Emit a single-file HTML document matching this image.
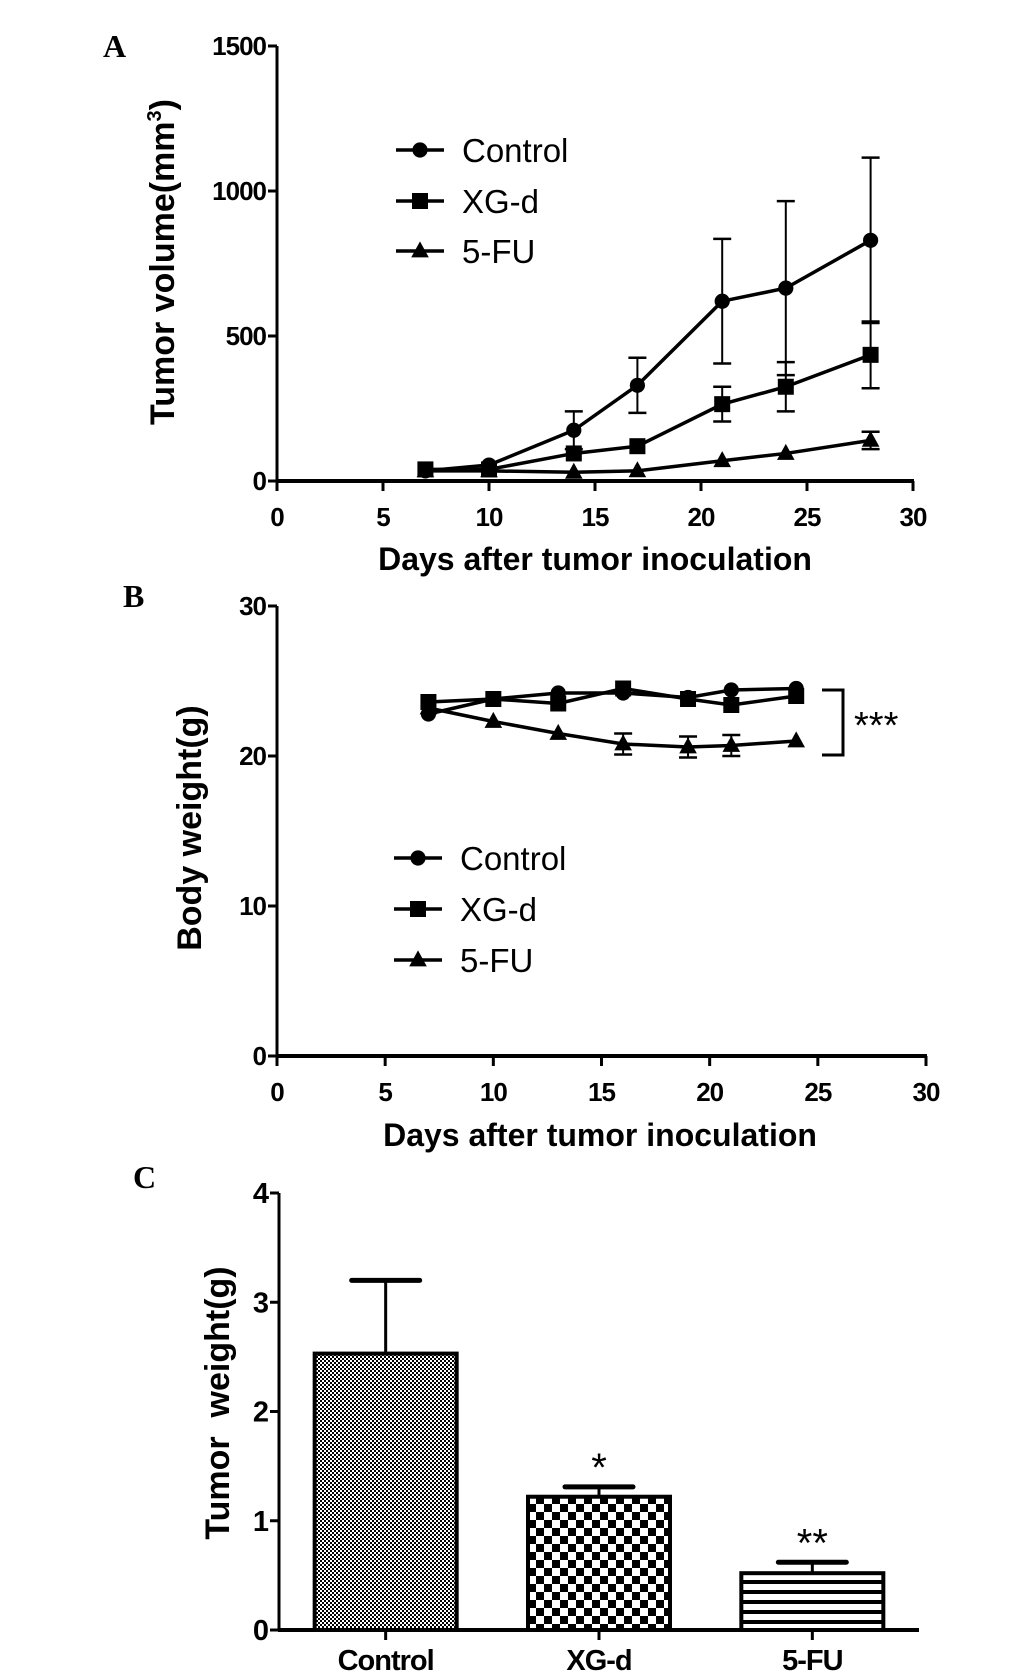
<!DOCTYPE html>
<html><head><meta charset="utf-8"><style>
html,body{margin:0;padding:0;background:#fff;}
svg{display:block;font-family:"Liberation Sans",Arial,sans-serif;}
.tk{font-size:26px;font-weight:bold;letter-spacing:-1px;}
.ttl{font-size:32px;font-weight:bold;}
.lg{font-size:33px;}
.pl{font-family:"Liberation Serif",serif;font-size:32px;font-weight:bold;}
</style></head><body>
<svg id="fig" width="1033" height="1672" viewBox="0 0 1033 1672" xmlns="http://www.w3.org/2000/svg">
<defs>
<pattern id="pDots" width="4" height="4" patternUnits="userSpaceOnUse"><rect width="4" height="4" fill="#fff"/><rect width="2" height="2" fill="#000"/><rect x="2" y="2" width="2" height="2" fill="#000"/></pattern>
<pattern id="pCheck" width="16" height="16" patternUnits="userSpaceOnUse"><rect width="16" height="16" fill="#fff"/><rect width="8" height="8" fill="#000"/><rect x="8" y="8" width="8" height="8" fill="#000"/></pattern>
<pattern id="pStripe" width="10" height="10" patternUnits="userSpaceOnUse"><rect width="10" height="10" fill="#fff"/><rect y="0" width="10" height="4" fill="#000"/></pattern>
</defs>
<g id="gA"></g>
<g id="gB"></g>
<g id="gC"></g>
</svg>
<script>
// Panel A data
const daysA = [7, 10, 14, 17, 21, 24, 28];
const volControl = [35, 55, 175, 330, 620, 665, 830];
const volControlErr = [0, 0, 65, 95, 215, 300, 285];
const volXGd = [40, 40, 95, 120, 265, 325, 435];
const volXGdErr = [0, 0, 0, 0, 60, 85, 115];
const vol5FU = [35, 35, 30, 35, 70, 95, 140];
const vol5FUErr = [0, 0, 0, 0, 0, 0, 30];
const ticksAx = [0, 5, 10, 15, 20, 25, 30];
const ticksAy = [0, 500, 1000, 1500];
// Panel B data
const daysB = [7, 10, 13, 16, 19, 21, 24];
const bwControl = [22.8, 23.8, 24.2, 24.2, 23.9, 24.4, 24.5];
const bwXGd = [23.6, 23.8, 23.5, 24.5, 23.8, 23.4, 24.0];
const bw5FU = [23.2, 22.3, 21.5, 20.8, 20.6, 20.7, 21.0];
const bw5FUErr = [0, 0, 0, 0.7, 0.7, 0.7, 0];
const ticksBx = [0, 5, 10, 15, 20, 25, 30];
const ticksBy = [0, 10, 20, 30];
// Panel C data
const groupsC = ["Control", "XG-d", "5-FU"];
const weightC = [2.53, 1.22, 0.52];
const weightErrC = [0.67, 0.09, 0.10];
const signifC = ["", "*", "**"];
const ticksCy = [0, 1, 2, 3, 4];

const NS = "http://www.w3.org/2000/svg";
function mk(parent, tag, attrs, text) {
  const e = document.createElementNS(NS, tag);
  for (const k in attrs) e.setAttribute(k, attrs[k]);
  if (text !== undefined) e.textContent = text;
  parent.appendChild(e);
  return e;
}
function marker(g, type, x, y, s) {
  let e;
  if (type === "circle") e = mk(g, "circle", {cx: x, cy: y, r: s * 0.95, fill: "#000"});
  else if (type === "square") e = mk(g, "rect", {x: x - s, y: y - s, width: 2 * s, height: 2 * s, fill: "#000"});
  else e = mk(g, "polygon", {points: `${x},${y - s * 1.2} ${x - s * 1.1},${y + s * 0.8} ${x + s * 1.1},${y + s * 0.8}`, fill: "#000"});
  return e;
}
function lineChart(g, cfg) {
  const sx = v => cfg.x0 + (v - 0) / 30 * (cfg.x1 - cfg.x0);
  const sy = v => cfg.y0 - v / cfg.ymax * (cfg.y0 - cfg.y1);
  const ya = mk(g, "line", {x1: cfg.x0, y1: cfg.y1, x2: cfg.x0, y2: cfg.y0 + 1, stroke: "#000", "stroke-width": 3});
  
  
  const xa = mk(g, "line", {x1: cfg.x0 - 1, y1: cfg.y0, x2: cfg.x1 + 1, y2: cfg.y0, stroke: "#000", "stroke-width": 4});
  
  
  cfg.tx.forEach(t => {
    mk(g, "line", {x1: sx(t), y1: cfg.y0, x2: sx(t), y2: cfg.y0 + 10, stroke: "#000", "stroke-width": 3});
    const l = mk(g, "text", {x: sx(t), y: cfg.y0 + 45, "text-anchor": "middle", class: "tk"}, t);
    
    
  });
  cfg.ty.forEach(t => {
    mk(g, "line", {x1: cfg.x0 - 9, y1: sy(t), x2: cfg.x0, y2: sy(t), stroke: "#000", "stroke-width": 3});
    const l = mk(g, "text", {x: cfg.x0 - 11, y: sy(t) + 9, "text-anchor": "end", class: "tk"}, t);
    
    
  });
  cfg.series.forEach(s => {
    const sg = mk(g, "g", {});
    
    
    const pts = s.x.map((d, i) => sx(d) + "," + sy(s.y[i])).join(" ");
    mk(sg, "polyline", {points: pts, fill: "none", stroke: "#000", "stroke-width": 3.5});
    s.x.forEach((d, i) => {
      const e = s.err ? s.err[i] : 0;
      if (e > 0) {
        const X = sx(d);
        mk(sg, "line", {x1: X, y1: sy(s.y[i] + e), x2: X, y2: sy(s.y[i] - e), stroke: "#000", "stroke-width": 2});
        mk(sg, "line", {x1: X - 9, y1: sy(s.y[i] + e), x2: X + 9, y2: sy(s.y[i] + e), stroke: "#000", "stroke-width": 2.5});
        mk(sg, "line", {x1: X - 9, y1: sy(s.y[i] - e), x2: X + 9, y2: sy(s.y[i] - e), stroke: "#000", "stroke-width": 2.5});
      }
      const m = marker(sg, s.mk, sx(d), sy(s.y[i]), 8);
      
      
    });
  });
  cfg.series.forEach((s, i) => {
    const lg = mk(g, "g", {});
    
    
    const y = cfg.legY[i];
    mk(lg, "line", {x1: cfg.legX - 24, y1: y, x2: cfg.legX + 24, y2: y, stroke: "#000", "stroke-width": 3.5});
    marker(lg, s.mk, cfg.legX, y, 8);
    mk(lg, "text", {x: cfg.legX + 42, y: y + 12, class: "lg"}, s.name);
  });
  const xt = mk(g, "text", {x: cfg.xtX, y: cfg.xtY, "text-anchor": "middle", class: "ttl"}, "Days after tumor inoculation");
  
  
}

// Panel A
const gA = document.getElementById("gA");
mk(gA, "text", {x: 103, y: 57, class: "pl"}, "A");
lineChart(gA, {x0: 277, x1: 913, y0: 481, y1: 46, ymax: 1500, tx: ticksAx, ty: ticksAy,
  legX: 420, legY: [150, 201, 251], xtX: 595, xtY: 570,
  series: [
    {name: "Control", mk: "circle", x: daysA, y: volControl, err: volControlErr},
    {name: "XG-d", mk: "square", x: daysA, y: volXGd, err: volXGdErr},
    {name: "5-FU", mk: "triangle", x: daysA, y: vol5FU, err: vol5FUErr}
  ]});
const ylA = mk(gA, "text", {transform: "translate(174,262) rotate(-90)", "text-anchor": "middle", class: "ttl", style: "font-size:34px"}, "Tumor volume(mm");
mk(ylA, "tspan", {"font-size": "20", dy: "-13"}, "3");
mk(ylA, "tspan", {dy: "13"}, ")");


// Panel B
const gB = document.getElementById("gB");
mk(gB, "text", {x: 123, y: 607, class: "pl"}, "B");
lineChart(gB, {x0: 277, x1: 926, y0: 1056, y1: 606, ymax: 30, tx: ticksBx, ty: ticksBy,
  legX: 418, legY: [858, 909, 960], xtX: 600, xtY: 1146,
  series: [
    {name: "Control", mk: "circle", x: daysB, y: bwControl},
    {name: "XG-d", mk: "square", x: daysB, y: bwXGd},
    {name: "5-FU", mk: "triangle", x: daysB, y: bw5FU, err: bw5FUErr}
  ]});
const ylB = mk(gB, "text", {transform: "translate(201,828) rotate(-90)", "text-anchor": "middle", class: "ttl", style: "font-size:34px"}, "Body weight(g)");

const br = mk(gB, "polyline", {points: "822,690 843,690 843,755 822,755", fill: "none", stroke: "#000", "stroke-width": 3});

mk(gB, "text", {x: 854, y: 738, "font-size": "38"}, "***");

// Panel C
const gC = document.getElementById("gC");
mk(gC, "text", {x: 133, y: 1188, class: "pl"}, "C");
const cx0 = 279, cx1 = 919, cy0 = 1630, cy1 = 1193, cmax = 4;
const syC = v => cy0 - v / cmax * (cy0 - cy1);
const bandW = (cx1 - cx0) / groupsC.length, barW = 142;
const bxC = i => cx0 + bandW * (i + 0.5);
const fills = ["url(#pDots)", "url(#pCheck)", "url(#pStripe)"];
groupsC.forEach((name, i) => {
  const bg = mk(gC, "g", {});
  
  
  const X = bxC(i), top = syC(weightC[i]), et = syC(weightC[i] + weightErrC[i]);
  mk(bg, "line", {x1: X, y1: top, x2: X, y2: et, stroke: "#000", "stroke-width": 3});
  mk(bg, "line", {x1: X - 34, y1: et, x2: X + 34, y2: et, stroke: "#000", "stroke-width": 5, "stroke-linecap": "round"});
  mk(bg, "rect", {x: X - barW / 2, y: top, width: barW, height: cy0 - top, fill: fills[i], stroke: "#000", "stroke-width": 4});
  if (signifC[i]) mk(bg, "text", {x: X, y: et - 6, "text-anchor": "middle", "font-size": "40"}, signifC[i]);
  mk(gC, "line", {x1: X, y1: cy0, x2: X, y2: cy0 + 10, stroke: "#000", "stroke-width": 3});
  const l = mk(gC, "text", {x: X, y: cy0 + 40, "text-anchor": "middle", class: "tk", style: "font-size:29px"}, name);
  
  
});
mk(gC, "line", {x1: cx0, y1: cy1, x2: cx0, y2: cy0, stroke: "#000", "stroke-width": 3});
mk(gC, "line", {x1: cx0 - 1, y1: cy0, x2: cx1, y2: cy0, stroke: "#000", "stroke-width": 4});
ticksCy.forEach(t => {
  mk(gC, "line", {x1: cx0 - 9, y1: syC(t), x2: cx0, y2: syC(t), stroke: "#000", "stroke-width": 3});
  const l = mk(gC, "text", {x: cx0 - 11, y: syC(t) + 10, "text-anchor": "end", class: "tk", style: "font-size:29px"}, t);
  
  
});
const ylC = mk(gC, "text", {transform: "translate(229,1403) rotate(-90)", "text-anchor": "middle", class: "ttl", style: "font-size:34px"}, "Tumor\u00a0\u00a0weight(g)");

</script>
</body></html>
